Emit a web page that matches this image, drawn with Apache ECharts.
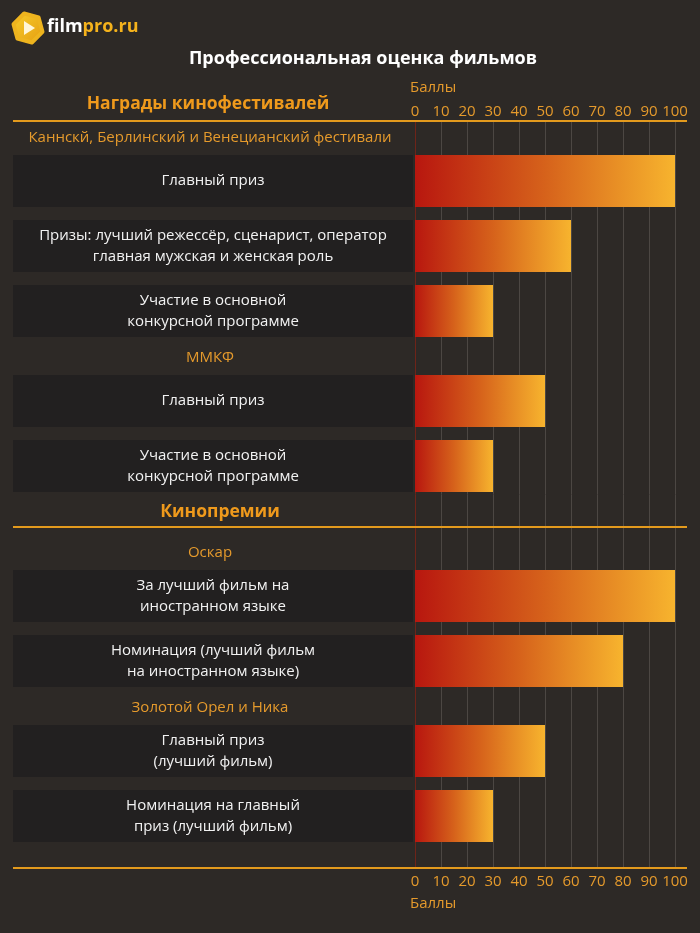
<!DOCTYPE html>
<html><head><meta charset="utf-8">
<script src="https://cdn.jsdelivr.net/npm/echarts@6/dist/echarts.min.js"></script>
<style>html,body{margin:0;padding:0;background:#2d2926}#c{width:700px;height:933px}</style>
</head><body><div id="c"></div>
<script>
// ---- data ----
const chartTitle = 'Профессиональная оценка фильмов';
const axisName = 'Баллы';
const axisMin = 0, axisMax = 100, axisStep = 10;

const groupFestivals = 'Награды кинофестивалей';
const groupAwards = 'Кинопремии';

const bigThreeName = 'Каннскй, Берлинский и Венецианский фестивали';
const bigThreeCats = ['Главный приз', 'Призы: лучший режессёр, сценарист, оператор\nглавная мужская и женская роль', 'Участие в основной\nконкурсной программе'];
const bigThreeVals = [100, 60, 30];

const mmkfName = 'ММКФ';
const mmkfCats = ['Главный приз', 'Участие в основной\nконкурсной программе'];
const mmkfVals = [50, 30];

const oscarName = 'Оскар';
const oscarCats = ['За лучший фильм на\nиностранном языке', 'Номинация (лучший фильм\nна иностранном языке)'];
const oscarVals = [100, 80];

const nikaName = 'Золотой Орел и Ника';
const nikaCats = ['Главный приз\n(лучший фильм)', 'Номинация на главный\nприз (лучший фильм)'];
const nikaVals = [50, 30];

// ---- layout / style ----
const FONT = '"Open Sans", "Noto Sans", sans-serif';
const ORANGE = '#ef9a1c';
const ORANGE_T = '#e59a2c';
const ROW = 65, BAR = 52;
const PLOT_L = 415, PLOT_W = 260, BOX_L = 13, BOX_W = 400;

const sections = [
  {name: bigThreeName, cats: bigThreeCats, vals: bigThreeVals, top: 148.5},
  {name: mmkfName, cats: mmkfCats, vals: mmkfVals, top: 368.5},
  {name: oscarName, cats: oscarCats, vals: oscarVals, top: 563.5},
  {name: nikaName, cats: nikaCats, vals: nikaVals, top: 718.5}
];

const grid = [{left: PLOT_L, width: PLOT_W, top: 121, height: 747}];
const xAxis = [
  {gridIndex: 0, type: 'value', position: 'top', min: axisMin, max: axisMax, interval: axisStep,
   axisLine: {show: false}, axisTick: {show: false},
   axisLabel: {color: ORANGE_T, fontSize: 15, fontFamily: FONT, margin: 2},
   splitLine: {show: true, lineStyle: {width: 1, color: ['#6e2419','#4c4743','#4c4743','#4c4743','#4c4743','#4c4743','#4c4743','#4c4743','#4c4743','#4c4743','#4c4743']}},
   name: axisName, nameLocation: 'start', nameGap: 5,
   nameTextStyle: {color: ORANGE_T, fontSize: 15, fontFamily: FONT, align: 'left', verticalAlign: 'bottom', padding: [0, 0, 26, 0]}},
  {gridIndex: 0, type: 'value', position: 'bottom', min: axisMin, max: axisMax, interval: axisStep,
   axisLine: {show: false}, axisTick: {show: false}, splitLine: {show: false},
   axisLabel: {color: ORANGE_T, fontSize: 15, fontFamily: FONT, margin: 6},
   name: axisName, nameLocation: 'start', nameGap: 5,
   nameTextStyle: {color: ORANGE_T, fontSize: 15, fontFamily: FONT, align: 'left', verticalAlign: 'top', padding: [28, 0, 0, 0]}}
];
const yAxis = [{gridIndex: 0, type: 'category', data: [''], show: false}];
const series = [];
const graphic = [];

const gradient = new echarts.graphic.LinearGradient(0, 0, 1, 0, [
  {offset: 0, color: '#b8170f'},
  {offset: 0.5, color: '#d6621b'},
  {offset: 1, color: '#f7b42e'}
]);

sections.forEach((s, i) => {
  const h = s.cats.length * ROW;
  const gl = grid.length;
  grid.push({left: BOX_L, width: BOX_W, top: s.top, height: h});
  grid.push({left: PLOT_L, width: PLOT_W, top: s.top, height: h});
  xAxis.push({gridIndex: gl, type: 'value', min: 0, max: 1, show: false});
  yAxis.push({gridIndex: gl, type: 'category', data: s.cats, inverse: true, show: false});
  xAxis.push({gridIndex: gl + 1, type: 'value', min: axisMin, max: axisMax, show: false});
  yAxis.push({gridIndex: gl + 1, type: 'category', data: s.cats, inverse: true, show: false});
  series.push({
    type: 'bar', xAxisIndex: xAxis.length - 2, yAxisIndex: yAxis.length - 2,
    data: s.cats.map(() => 1), barWidth: BAR, silent: true,
    itemStyle: {color: '#222020'},
    label: {show: true, position: 'inside', formatter: p => p.name, color: '#f2f2f2',
            fontSize: 15, lineHeight: 21, fontFamily: FONT}
  });
  series.push({
    type: 'bar', name: s.name, xAxisIndex: xAxis.length - 1, yAxisIndex: yAxis.length - 1,
    data: s.vals, barWidth: BAR, itemStyle: {color: gradient}
  });
  graphic.push({type: 'text', x: BOX_L + BOX_W / 2 - 3, y: s.top - 11,
    style: {text: s.name, fill: ORANGE_T, font: '15px ' + FONT, align: 'center', verticalAlign: 'middle'}});
});

[[groupFestivals, 104, 121, 208], [groupAwards, 512, 527, 220]].forEach(([t, ty, ly, tx]) => {
  graphic.push({type: 'text', x: tx, y: ty,
    style: {text: t, fill: ORANGE, font: 'bold 17.5px ' + FONT, align: 'center', verticalAlign: 'middle'}});
  graphic.push({type: 'line', shape: {x1: 13, y1: ly, x2: 687, y2: ly}, style: {stroke: '#e39a1d', lineWidth: 2}, z: 10});
});
graphic.push({type: 'line', shape: {x1: 13, y1: 868, x2: 687, y2: 868}, style: {stroke: '#e39a1d', lineWidth: 2}, z: 10});

graphic.push({type: 'text', x: 363, y: 59,
  style: {text: chartTitle, fill: '#ffffff', font: 'bold 18px ' + FONT, align: 'center', verticalAlign: 'middle'}});

// logo
const hex = [];
for (let k = 0; k < 6; k++) {
  const a = Math.PI / 180 * (60 * k + 15);
  hex.push([28 + 15 * Math.cos(a), 28 + 15 * Math.sin(a)]);
}
graphic.push({type: 'polygon', shape: {points: hex}, style: {fill: new echarts.graphic.LinearGradient(0, 0, 1, 1, [{offset: 0, color: '#f8cf2c'}, {offset: 1, color: '#e49b10'}]), lineJoin: 'round', stroke: '#eeb41e', lineWidth: 4}});
graphic.push({type: 'polygon', shape: {points: [[24, 21], [24, 35], [35, 28]]}, style: {fill: '#fff6d8'}});
graphic.push({type: 'text', x: 47, y: 27,
  style: {text: '{a|film}{b|pro.ru}', verticalAlign: 'middle',
    rich: {a: {fill: '#ffffff', font: 'bold 18px ' + FONT}, b: {fill: '#f4b21c', font: 'bold 18px ' + FONT}}}});

const chart = echarts.init(document.getElementById('c'));
chart.setOption({
  backgroundColor: '#2d2926',
  animation: false,
  grid, xAxis, yAxis, series, graphic
});
</script></body></html>
